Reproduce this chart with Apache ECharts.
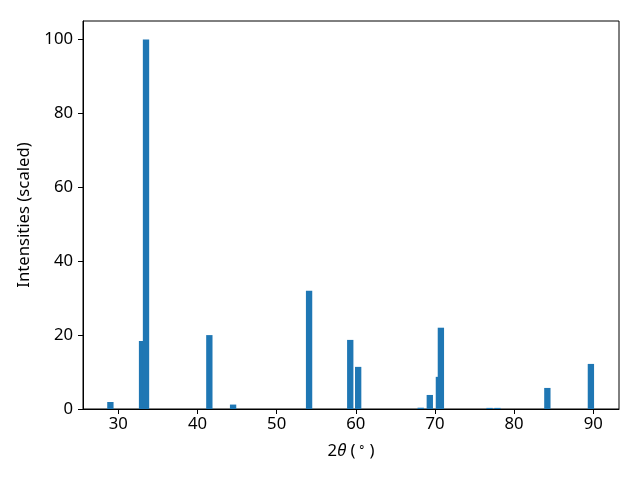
<!DOCTYPE html>
<html>
<head>
<meta charset="utf-8">
<script src="https://cdn.jsdelivr.net/npm/echarts@6/dist/echarts.min.js"></script>
<style>html,body{margin:0;padding:0;background:#fff;}#chart{width:640px;height:480px;}</style>
</head>
<body>
<div id="chart"></div>
<script>
const twoTheta = [29.0, 33.0, 33.5, 41.5, 44.5, 54.1, 59.3, 60.3, 68.2, 69.35, 70.5, 70.75, 76.9, 77.9, 84.2, 89.7];
const intensities = [1.9, 18.4, 100, 20.0, 1.2, 32.0, 18.7, 11.4, 0.35, 3.8, 8.7, 22.0, 0.3, 0.3, 5.7, 12.2];
const xTicks = [30, 40, 50, 60, 70, 80, 90];
const yTicks = [0, 20, 40, 60, 80, 100];
const barWidthUnits = 0.8;

const data = twoTheta.map((x, i) => [x, intensities[i]]);
const font = 'Noto Sans';
const fs = 16.7;
const chart = echarts.init(document.getElementById('chart'), null, {renderer: 'canvas'});
chart.setOption({
  animation: false,
  backgroundColor: '#fff',
  grid: {left: 83, right: 21, top: 21, bottom: 71, show: true, borderColor: '#000', borderWidth: 1, backgroundColor: 'transparent'},
  xAxis: {
    type: 'value', min: 25.54, max: 93.25,
    splitLine: {show: false},
    axisLine: {lineStyle: {color: '#000', width: 1}},
    axisTick: {show: true, length: 5, inside: false, customValues: xTicks, lineStyle: {color: '#000'}},
    axisLabel: {customValues: xTicks, color: '#000', fontFamily: font, fontSize: fs, margin: 7},
    name: '2{it|θ} ({sup|∘})',
    nameLocation: 'middle', nameGap: 33,
    nameTextStyle: {color: '#000', fontFamily: font, fontSize: fs,
      rich: {it: {fontStyle: 'italic', fontFamily: font, fontSize: fs, color: '#000'},
             sup: {fontFamily: font, fontSize: 12, verticalAlign: 'bottom', padding: [0, 3, 7, 3], color: '#000'}}}
  },
  yAxis: {
    type: 'value', min: 0, max: 105,
    splitLine: {show: false},
    axisLine: {show: true, lineStyle: {color: '#000', width: 1}},
    axisTick: {show: true, length: 5, customValues: yTicks, lineStyle: {color: '#000'}},
    axisLabel: {customValues: yTicks, color: '#000', fontFamily: font, fontSize: fs, margin: 10},
    name: 'Intensities (scaled)',
    nameLocation: 'middle', nameGap: 50, nameRotate: 90,
    nameTextStyle: {color: '#000', fontFamily: font, fontSize: fs}
  },
  series: [{
    type: 'custom',
    data: data,
    encode: {x: 0, y: 1},
    renderItem: function (params, api) {
      const x = api.value(0), y = api.value(1);
      const p1 = api.coord([x - barWidthUnits / 2, y]);
      const p2 = api.coord([x + barWidthUnits / 2, 0]);
      return {type: 'rect', shape: {x: p1[0], y: p1[1], width: p2[0] - p1[0], height: p2[1] - p1[1]},
        style: {fill: '#1f77b4'}};
    }
  }]
});
</script>
</body>
</html>
